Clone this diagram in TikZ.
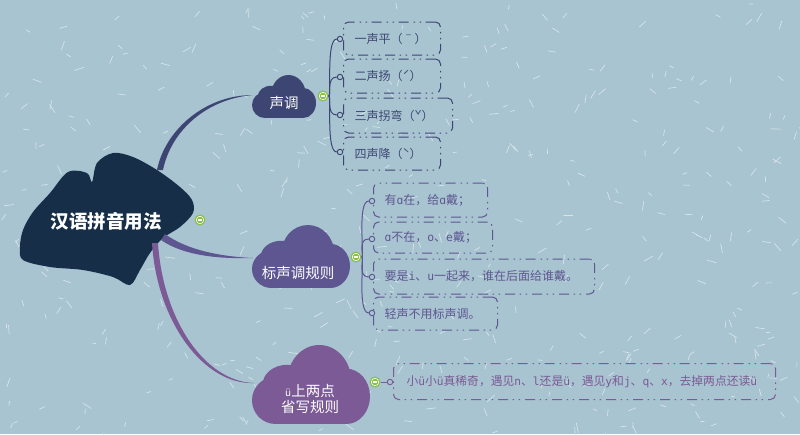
\documentclass[tikz,border=0pt]{standalone}
\usepackage{fontspec}
\setmainfont{Noto Sans CJK SC}
\newfontfamily\lat{DejaVu Sans Mono}[Scale=0.95]
\usetikzlibrary{calc}
\definecolor{bg}{HTML}{A8C4D0}
\definecolor{leafc}{HTML}{162E48}
\definecolor{slate}{HTML}{3D4673}
\definecolor{plum}{HTML}{5E5691}
\definecolor{mauve}{HTML}{7B5A96}
\definecolor{grn}{HTML}{86C048}
\definecolor{speck}{HTML}{D6E4EA}
\newcommand\cloudfill[5]{%
  \begin{scope}[shift={(#1,#2+#4)}, x=#3pt, y=#4pt]
    \fill[#5] (0.2,0.3) ellipse[x radius=0.2, y radius=0.3];
    \fill[#5] (0.3,0.5) ellipse[x radius=0.21, y radius=0.25];
    \fill[#5] (0.57,0.55) ellipse[x radius=0.27, y radius=0.45];
    \fill[#5] (0.8,0.35) ellipse[x radius=0.2, y radius=0.35];
    \fill[#5] (0.2,0) rectangle (0.8,0.5);
  \end{scope}}
\tikzset{
  cloudtext/.style={text=white!95!bg, font=\fontsize{14.5}{16}\selectfont, inner sep=0pt},
  collapse/.style={circle, minimum size=11pt, inner sep=0pt, fill=grn,
    path picture={
      \fill[white] (path picture bounding box.center) circle (4.1pt);
      \fill[grn] (path picture bounding box.center) circle (3.3pt);
      \fill[white] ([xshift=-2.3pt,yshift=-0.65pt]path picture bounding box.center) rectangle ([xshift=2.3pt,yshift=0.65pt]path picture bounding box.center);}},
  port/.style={circle, draw, line width=0.9pt, fill=bg, minimum size=5.5pt, inner sep=0pt},
  leafbox/.style={draw, rounded corners=5pt, line width=1pt,
    dash pattern=on 10pt off 4.5pt on 1.5pt off 4.5pt on 1.5pt off 5pt, anchor=west, align=left,
    inner xsep=11pt, inner ysep=0pt, font=\fontsize{12}{13}\selectfont},
  hub/.style={line width=1pt},
}
\begin{document}
\begin{tikzpicture}[x=1pt,y=-1pt]
\fill[bg] (0,0) rectangle (800,434);
\useasboundingbox (0,0) rectangle (800,434);
% background speckles
\pgfmathsetseed{12}
\foreach \i in {1,...,420}{%
  \pgfmathsetmacro\xa{rnd*800}\pgfmathsetmacro\ya{rnd*434}%
  \pgfmathsetmacro\an{rnd*180}\pgfmathsetmacro\ln{4+rnd*6}%
  \draw[speck, line width=0.7pt] (\xa,\ya) -- ++(\an:\ln);}
% central leaf
\fill[leafc] plot[smooth cycle, tension=0.55] coordinates {(23,230) (33,212) (50,193) (68,172) (87,173) (92,182) (97,163) (113,153) (133,157) (157,170) (180,187) (192,200) (193,213) (180,227) (163,238) (150,253) (140,270) (130,285) (113,277) (83,270) (50,267) (23,260) (20,247)};
\node[text=white, font=\fontsize{18.5}{20}\selectfont\bfseries, inner sep=0pt] (root) at (106,221) {汉语拼音用法};
\node[collapse] (k0) at (200,220) {};
% clouds
\cloudfill{252}{75}{64}{43}{slate}
\node[cloudtext] (c1) at (284,103) {声调};
\cloudfill{252}{225}{98}{63}{plum}
\node[cloudtext] (c2) at (298,273) {标声调规则};
\cloudfill{252}{345}{118}{79}{mauve}
\node[cloudtext, align=center] (c3) at (310,399) {{\fontsize{10}{16}\selectfont ü}上两点\\省写规则};
% tapered main connectors
\coordinate (r1) at (160,170); \coordinate (e1) at (253,95);
\coordinate (r2) at (163,237); \coordinate (e2) at (253,258);
\coordinate (r3) at (155,243); \coordinate (e3) at (254,383);
\fill[slate] ($(r1)+(-3,0)$) .. controls (165,130) and (205,95) .. (e1) .. controls (206,99) and (171,131) .. ($(r1)+(3,0)$) -- cycle;
\fill[plum] ($(r2)+(2,-3)$) .. controls (187,250) and (220,256.5) .. (e2) .. controls (220,259) and (184,256) .. ($(r2)+(-2,3)$) -- cycle;
\fill[mauve] ($(r3)+(3,0)$) .. controls (163,320) and (205,381.5) .. (e3) .. controls (204,385) and (157,322) .. ($(r3)+(-3,0)$) -- cycle;
% collapse icons of branches
\node[collapse] (k1) at (323,96) {};
\node[collapse] (k2) at (356,257) {};
\node[collapse] (k3) at (375,382) {};
% branch 1 children
\node[leafbox, draw=slate, text=slate, text width=75pt, minimum height=33pt] (t1) at (343,38.5) {\mbox{一声平（ˉ）}};
\node[leafbox, draw=slate, text=slate, text width=75pt, minimum height=34pt] (t2) at (343,76) {\mbox{二声扬（ˊ）}};
\node[leafbox, draw=slate, text=slate, text width=87pt, minimum height=35pt] (t3) at (343,115.5) {\mbox{三声拐弯（ˇ）}};
\node[leafbox, draw=slate, text=slate, text width=75pt, minimum height=33pt] (t4) at (343,153.5) {\mbox{四声降（ˋ）}};
\foreach \j/\yy in {1/39,2/77,3/115,4/152}{
  \node[port, draw=slate] (p1\j) at (340,\yy) {};
  \draw[hub, slate] (k1.east) to[out=0, in=180, out distance=3pt, in distance=11pt] (p1\j.west);}
% branch 2 children
\node[leafbox, draw=plum, text=plum, text width=92pt, minimum height=34pt] (s1) at (373,200) {\mbox{有{\lat ɑ}在，给{\lat ɑ}戴；}};
\node[leafbox, draw=plum, text=plum, text width=97pt, minimum height=31pt] (s2) at (373,237.5) {\mbox{{\lat ɑ}不在，{\lat o}、{\lat e}戴；}};
\node[leafbox, draw=plum, text=plum, text width=199pt, minimum height=35pt] (s3) at (373,276.5) {\mbox{要是{\lat i}、{\lat u}一起来，谁在后面给谁戴。}};
\node[leafbox, draw=plum, text=plum, text width=102pt, minimum height=33pt] (s4) at (373,313.5) {\mbox{轻声不用标声调。}};
\foreach \j/\yy in {1/201,2/239,3/277,4/313}{
  \node[port, draw=plum] (p2\j) at (372,\yy) {};
  \draw[hub, plum] (k2.east) to[out=0, in=180, out distance=3pt, in distance=12pt] (p2\j.west);}
% branch 3 child
\node[leafbox, draw=mauve, text=mauve, inner xsep=13pt, text width=356pt, minimum height=36pt, font=\fontsize{11.8}{13}\selectfont] (u1) at (393,381.5) {\mbox{小{\lat ü}小{\lat ü}真稀奇，遇见{\lat n}、{\lat l}还是{\lat ü}，遇见{\lat y}和{\lat j}、{\lat q}、{\lat x}，去掉两点还读{\lat ü}}};
\node[port, draw=mauve] (p31) at (390,382) {};
\draw[hub, mauve] (k3.east) -- (p31.west);
\end{tikzpicture}
\end{document}
